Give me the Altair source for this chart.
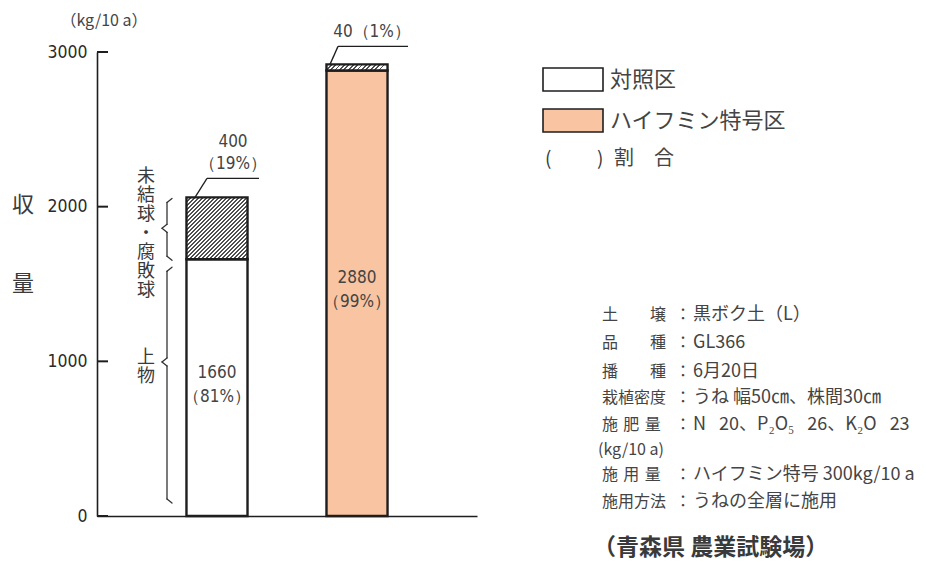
import altair as alt
import pandas as pd

# ---------------- data ----------------
categories = ["対照区", "ハイフミン特号区"]
marketable = [1660, 2880]          # 上物
unmarketable = [400, 40]           # 未結球・腐敗球
marketable_pct = [81, 99]
unmarketable_pct = [19, 1]
y_ticks = [0, 1000, 2000, 3000]
fill_colors = ["#ffffff", "#f8c4a1"]
brace_labels = [["未", "結", "球", "・", "腐", "敗", "球"], ["上", "物"]]
legend_labels = categories
note_keys = ["土　　壌", "品　　種", "播　　種", "栽植密度", "施\u2004肥\u2004量",
             "(kg/10 a)", "施\u2004用\u2004量", "施用方法"]
note_values = ["黒ボク土（L）", "GL366", "6月20日", "うね 幅50㎝、株間30㎝",
               "N\u2002 20、P₂O₅\u2002 26、K₂O\u2002 23", "", "ハイフミン特号 300kg/10 a",
               "うねの全層に施用"]
source = "（青森県 農業試験場）"

JP = "Noto Sans CJK JP"
NUM = "Liberation Sans Narrow, DejaVu Sans Condensed, Roboto Condensed, Liberation Sans"
TXT = "#3a3a3a"
LINE = "#1e1e1e"

df = pd.DataFrame({
    "cat": categories,
    "good": marketable,
    "bad": unmarketable,
    "gp": marketable_pct,
    "bp": unmarketable_pct,
})
one = pd.DataFrame({"k": [0]})

W, H = 380, 464

yscale = alt.Scale(domain=[0, 3000], nice=False, zero=True)
xscale = alt.Scale(domain=categories, paddingInner=0.564, paddingOuter=0.639)


def Y(f):
    return alt.Y(f, scale=yscale, title=None)


def X(**kw):
    return alt.X("cat:N", sort=categories, scale=xscale, title=None, **kw)


base = alt.Chart(df).transform_calculate(
    total="datum.good + datum.bad",
    half="datum.good / 2",
    good_lab="'' + datum.good",
    good_pct="'（' + datum.gp + '%）'",
    bad_lab="'' + datum.bad",
    bad_pct="'（' + datum.bp + '%）'",
    bad_one="datum.bad + '（' + datum.bp + '%）'",
)


def stripes(n, duty=0.4, dark="#505050", light="#ffffff"):
    stops = []
    for i in range(n):
        s = i / n
        m = (i + duty) / n
        e = (i + 1) / n
        stops += [alt.GradientStop(color=dark, offset=s),
                  alt.GradientStop(color=dark, offset=m),
                  alt.GradientStop(color=light, offset=m),
                  alt.GradientStop(color=light, offset=e)]
    return stops


layers = []

# main bars
layers.append(
    base.mark_bar(stroke=LINE, strokeWidth=2.4).encode(
        x=X(), y=Y("good:Q"),
        color=alt.Color("cat:N", scale=alt.Scale(domain=categories, range=fill_colors), legend=None),
    )
)

# hatched segments
bar_w = 61.0
hatch_n = [31, 14]
for i, c in enumerate(categories):
    h_px = unmarketable[i] * H / 3000
    r = h_px / bar_w
    grad = alt.LinearGradient(gradient="linear", stops=stripes(hatch_n[i]), x1=0, y1=0, x2=1, y2=r)
    layers.append(
        base.transform_filter(alt.datum.cat == c).mark_bar(fill=grad, stroke=LINE, strokeWidth=2.4).encode(
            x=X(), y=Y("good:Q"), y2="total:Q",
        )
    )

# y ticks drawn on the inner side of the axis
tick_tbl = pd.DataFrame({"tv": y_ticks})
layers.append(
    alt.Chart(tick_tbl).mark_rule(color=LINE, strokeWidth=2).encode(
        x=alt.value(0), x2=alt.value(11), y=Y("tv:Q"), y2="tv:Q"
    )
)

# labels inside bars
for lab, dy in [("good_lab", -15), ("good_pct", 9)]:
    layers.append(
        base.mark_text(font=NUM, fontSize=17, color="#444", baseline="middle", dy=dy).encode(
            x=X(bandPosition=0.5), y=Y("half:Q"), text=f"{lab}:N"
        )
    )

# annotation of hatched part: control
ctl = base.transform_filter(alt.datum.cat == categories[0])
layers.append(
    ctl.mark_rule(color=LINE, strokeWidth=1.3, xOffset=-22, x2Offset=-10, yOffset=0, y2Offset=-19).encode(
        x=X(bandPosition=0.5), x2=alt.X2("cat:N", bandPosition=0.5),
        y=Y("total:Q"), y2="total:Q",
    )
)
layers.append(
    ctl.mark_rule(color=LINE, strokeWidth=1.3, xOffset=-10, x2Offset=42, yOffset=-19, y2Offset=-19).encode(
        x=X(bandPosition=0.5), x2=alt.X2("cat:N", bandPosition=0.5),
        y=Y("total:Q"), y2="total:Q",
    )
)
for lab, dy in [("bad_lab", -55), ("bad_pct", -33)]:
    layers.append(
        ctl.mark_text(font=NUM, fontSize=17, color="#444", baseline="middle", dx=16, dy=dy).encode(
            x=X(bandPosition=0.5), y=Y("total:Q"), text=f"{lab}:N"
        )
    )

# annotation of hatched part: treated
trt = base.transform_filter(alt.datum.cat == categories[1])
layers.append(
    trt.mark_rule(color=LINE, strokeWidth=1.3, xOffset=-27, x2Offset=-19, yOffset=0, y2Offset=-18).encode(
        x=X(bandPosition=0.5), x2=alt.X2("cat:N", bandPosition=0.5),
        y=Y("total:Q"), y2="total:Q",
    )
)
layers.append(
    trt.mark_rule(color=LINE, strokeWidth=1.3, xOffset=-19, x2Offset=51, yOffset=-18, y2Offset=-18).encode(
        x=X(bandPosition=0.5), x2=alt.X2("cat:N", bandPosition=0.5),
        y=Y("total:Q"), y2="total:Q",
    )
)
layers.append(
    trt.mark_text(font=NUM, fontSize=17, color="#444", baseline="middle", dx=15, dy=-32).encode(
        x=X(bandPosition=0.5), y=Y("total:Q"), text="bad_one:N"
    )
)

# braces with vertical labels
brace_df = pd.DataFrame({
    "idx": [0, 1],
    "lo": [marketable[0], 0],
    "hi": [marketable[0] + unmarketable[0], marketable[0]],
    "frac": [0.5, 0.6],
})
XV, XH, XP = 70, 75, 65
brace_insets = [(1, -1), (8, 13)]
LH = 19
for i in range(2):
    ti, bi = brace_insets[i]
    bd = alt.Chart(brace_df).transform_filter(alt.datum.idx == i).transform_calculate(
        a="datum.lo + (datum.hi - datum.lo) * datum.frac"
    )
    rk = dict(color="#333", strokeWidth=1.3, strokeCap="round")
    nlines = len(brace_labels[i])
    layers += [
        bd.mark_rule(yOffset=ti + 4, y2Offset=ti, **rk).encode(
            x=alt.value(XV), x2=alt.value(XH), y=Y("hi:Q"), y2="hi:Q"),
        bd.mark_rule(yOffset=ti + 4, y2Offset=-4, **rk).encode(
            x=alt.value(XV), y=Y("hi:Q"), y2="a:Q"),
        bd.mark_rule(yOffset=-4, y2Offset=0, **rk).encode(
            x=alt.value(XV), x2=alt.value(XP), y=Y("a:Q"), y2="a:Q"),
        bd.mark_rule(yOffset=0, y2Offset=4, **rk).encode(
            x=alt.value(XP), x2=alt.value(XV), y=Y("a:Q"), y2="a:Q"),
        bd.mark_rule(yOffset=4, y2Offset=-(bi + 4), **rk).encode(
            x=alt.value(XV), y=Y("a:Q"), y2="lo:Q"),
        bd.mark_rule(yOffset=-(bi + 4), y2Offset=-bi, **rk).encode(
            x=alt.value(XV), x2=alt.value(XH), y=Y("lo:Q"), y2="lo:Q"),
        bd.mark_text(text=brace_labels[i], font=JP, fontSize=18, lineHeight=LH, color=TXT,
                     baseline="middle", align="center", dy=6 - (nlines - 1) * LH / 2).encode(
            x=alt.value(49), y=Y("a:Q")),
    ]


def label(text, x, y, size=16, align="center", font=JP, color=TXT, weight="normal"):
    return alt.Chart(one).mark_text(text=text, font=font, fontSize=size, align=align,
                                    baseline="middle", color=color, fontWeight=weight).encode(
        x=alt.value(x), y=alt.value(y))


# axis titles
layers += [
    label("収", -74, 153, size=22),
    label("量", -74, 232, size=22),
    label("（kg/10 a）", 7, -31, size=16, color="#444"),
]

# legend
leg_rows = [(16, 39), (57, 80)]
for i, name in enumerate(legend_labels):
    y0, y1 = leg_rows[i]
    layers.append(
        alt.Chart(one).mark_rect(fill=fill_colors[i], stroke=LINE, strokeWidth=1.6).encode(
            x=alt.value(446), x2=alt.value(506), y=alt.value(y0), y2=alt.value(y1))
    )
    layers.append(label(name, 513, (y0 + y1) / 2, size=22, align="left", color="#444"))
layers += [
    label("(", 448, 107, size=19, align="left"),
    label(")", 500, 107, size=19, align="left"),
    label("割　合", 517, 107, size=20, align="left", color="#444"),
]

# notes
note_y = [263, 291, 320, 346, 373, 398, 423, 450]
for k, v, yy in zip(note_keys, note_values, note_y):
    if v:
        layers.append(label(k, 505, yy, size=16, align="left", color="#444"))
        layers.append(label("：", 586, yy, size=16, align="center", color="#444"))
        layers.append(label(v, 596, yy, size=18, align="left", color="#444"))
    else:
        layers.append(label(k, 501, yy, size=16, align="left", color="#444"))
layers.append(label(source, 496, 496, size=23, align="left", color="#3a3a3a", weight="bold"))

chart = alt.layer(*layers).properties(
    width=W, height=H,
    background="white",
    autosize=alt.AutoSizeParams(type="none"),
    padding={"left": 89, "top": 44, "right": 441, "bottom": 47},
).configure_view(stroke=None).configure_axisY(
    tickCount=4, format="d", ticks=False, tickSize=0, labelPadding=10, labelFontSize=17.5,
    labelFont=NUM, labelColor="#2a2a2a", domainColor=LINE, domainWidth=1.6, grid=False,
).configure_axisX(
    labels=False, ticks=False, domain=True, grid=False, domainColor=LINE, domainWidth=1.6,
)

chart.save("out.html", embed_options={"renderer": "svg", "actions": False})
